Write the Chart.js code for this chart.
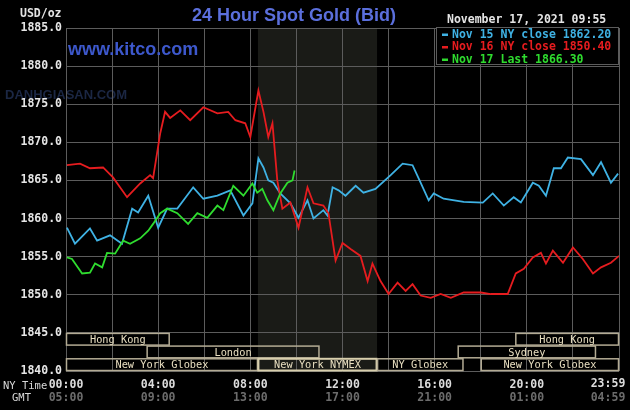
<!DOCTYPE html>
<html>
<head>
<meta charset="utf-8">
<script src="https://cdn.jsdelivr.net/npm/chart.js@4.4.1/dist/chart.umd.min.js"></script>
<style>
  html, body { margin: 0; padding: 0; background: #000; overflow: hidden; }
  canvas { display: block; }
</style>
</head>
<body>
<canvas id="goldChart" width="630" height="410"></canvas>
<script>
// --- data (hours after 00:00 NY time, price in USD/oz) ---
const nov15Hours = [0.04, 0.39, 1.04, 1.35, 1.91, 2.43, 2.87, 3.13, 3.57, 4.00, 4.39, 4.83, 5.52, 5.96, 6.57, 7.13, 7.70, 8.09, 8.35, 8.57, 8.78, 9.00, 9.30, 9.74, 10.09, 10.48, 10.74, 11.17, 11.35, 11.57, 11.83, 12.13, 12.57, 12.91, 13.43, 14.09, 14.61, 15.04, 15.39, 15.74, 15.96, 16.39, 17.26, 18.09, 18.52, 19.00, 19.43, 19.74, 20.26, 20.52, 20.83, 21.17, 21.48, 21.78, 22.35, 22.87, 23.22, 23.65, 23.96];
const nov15Prices = [1858.8, 1856.7, 1858.7, 1857.1, 1857.8, 1856.7, 1861.3, 1860.8, 1863.0, 1858.8, 1861.3, 1861.3, 1864.1, 1862.6, 1863.0, 1863.7, 1860.4, 1862.0, 1867.9, 1866.7, 1865.0, 1864.7, 1863.3, 1862.0, 1860.1, 1862.4, 1860.0, 1861.1, 1860.4, 1864.1, 1863.7, 1863.0, 1864.3, 1863.4, 1863.9, 1865.7, 1867.2, 1867.0, 1864.7, 1862.4, 1863.3, 1862.6, 1862.2, 1862.1, 1863.3, 1861.7, 1862.8, 1862.1, 1864.7, 1864.3, 1863.0, 1866.6, 1866.6, 1868.0, 1867.8, 1865.7, 1867.4, 1864.7, 1865.9];

const nov16Hours = [0.04, 0.61, 1.04, 1.61, 2.04, 2.65, 3.22, 3.65, 3.78, 4.09, 4.30, 4.52, 4.96, 5.39, 5.96, 6.57, 7.04, 7.35, 7.78, 8.00, 8.35, 8.57, 8.78, 8.96, 9.17, 9.39, 9.74, 10.09, 10.48, 10.74, 11.17, 11.39, 11.70, 12.00, 12.35, 12.78, 13.09, 13.30, 13.65, 14.00, 14.39, 14.74, 15.04, 15.39, 15.83, 16.26, 16.70, 17.26, 18.00, 18.43, 19.17, 19.52, 19.87, 20.26, 20.61, 20.83, 21.13, 21.57, 22.00, 22.43, 22.87, 23.22, 23.65, 24.00];
const nov16Prices = [1867.0, 1867.2, 1866.6, 1866.7, 1865.4, 1862.8, 1864.6, 1865.7, 1865.3, 1871.2, 1874.0, 1873.2, 1874.2, 1872.9, 1874.6, 1873.8, 1874.0, 1872.9, 1872.5, 1870.7, 1876.8, 1874.0, 1870.7, 1872.5, 1865.0, 1861.3, 1862.1, 1858.8, 1864.1, 1862.0, 1861.7, 1860.7, 1854.5, 1856.8, 1856.0, 1855.1, 1851.8, 1854.1, 1851.8, 1850.1, 1851.6, 1850.5, 1851.4, 1849.9, 1849.6, 1850.1, 1849.6, 1850.3, 1850.3, 1850.1, 1850.1, 1852.8, 1853.4, 1854.9, 1855.5, 1854.1, 1855.8, 1854.2, 1856.2, 1854.7, 1852.8, 1853.6, 1854.2, 1855.1];

const nov17Hours = [0.04, 0.26, 0.70, 1.04, 1.26, 1.57, 1.78, 2.13, 2.48, 2.78, 3.22, 3.57, 3.78, 4.09, 4.39, 4.83, 5.30, 5.70, 6.13, 6.57, 6.83, 7.26, 7.70, 8.09, 8.30, 8.52, 8.74, 9.00, 9.30, 9.61, 9.83, 9.92];
const nov17Prices = [1854.9, 1854.7, 1852.8, 1852.9, 1854.1, 1853.6, 1855.5, 1855.4, 1857.1, 1856.7, 1857.4, 1858.4, 1859.3, 1860.7, 1861.3, 1860.7, 1859.3, 1860.7, 1860.1, 1861.7, 1861.1, 1864.3, 1863.0, 1864.6, 1863.4, 1863.9, 1862.4, 1861.1, 1863.3, 1864.7, 1865.0, 1866.3];

const seriesLabels = ['Nov 15 NY close 1862.20', 'Nov 16 NY close 1850.40', 'Nov 17 Last 1866.30'];

const labelHours = [0, 4, 8, 12, 16, 20, 24];
const nyTimeLabels = ['00:00', '04:00', '08:00', '12:00', '16:00', '20:00', '23:59'];
const gmtLabels = ['05:00', '09:00', '13:00', '17:00', '21:00', '01:00', '04:59'];

// trading sessions (row 0 = top)
const sessionNames = ['Hong Kong', 'Hong Kong', 'London', 'Sydney', 'New York Globex', 'New York NYMEX', 'NY Globex', 'New York Globex'];
const sessionStart = [0, 19.5, 3.5, 17.0, 0, 8.33, 13.5, 18.0];
const sessionEnd = [4.5, 24, 11.0, 23.0, 8.33, 13.5, 17.25, 24];
const sessionRow = [0, 0, 1, 1, 2, 2, 2, 2];
const pitStart = 8.33, pitEnd = 13.5;

const MONO = '"DejaVu Sans Mono", monospace';
const colors = { nov15: '#3fb2e4', nov16: '#e61c1f', nov17: '#2fdc2f' };

function points(hours, prices) {
    return hours.map((h, i) => ({ x: h, y: prices[i] }));
}

const decor = {
    id: 'decor',
    beforeDraw(chart) {
        const { ctx, chartArea: a, scales: { x } } = chart;
        ctx.save();
        ctx.fillStyle = '#000';
        ctx.fillRect(0, 0, chart.width, chart.height);
        // NYMEX pit hours shading
        const x0 = x.getPixelForValue(pitStart), x1 = x.getPixelForValue(pitEnd);
        ctx.fillStyle = '#1a1b17';
        ctx.fillRect(x0, a.top, x1 - x0, a.bottom - a.top);
        // faint site watermark
        ctx.fillStyle = '#1b2744';
        ctx.font = 'bold 13px "Liberation Sans", sans-serif';
        ctx.textBaseline = 'middle';
        ctx.fillText('DANHGIASAN.COM', 5, 95);
        ctx.restore();
    },
    afterDatasetsDraw(chart) {
        const { ctx, scales: { x, y } } = chart;
        ctx.save();
        const band = 5 / 3;
        sessionNames.forEach((name, i) => {
            const l = x.getPixelForValue(sessionStart[i]);
            const r = x.getPixelForValue(sessionEnd[i]);
            const t = y.getPixelForValue(1845 - sessionRow[i] * band);
            const b = y.getPixelForValue(1845 - (sessionRow[i] + 1) * band);
            const pit = name === 'New York NYMEX';
            ctx.strokeStyle = pit ? '#d8cfad' : '#b3ab94';
            ctx.lineWidth = pit ? 2 : 1.5;
            ctx.strokeRect(l + 0.5, t + 0.5, r - l - 1, b - t - 1);
            ctx.fillStyle = '#e8dec0';
            ctx.font = '10.3px ' + MONO;
            ctx.textAlign = 'center';
            ctx.textBaseline = 'middle';
            ctx.fillText(name, (l + r) / 2, (t + b) / 2 + 1);
        });
        // kitco watermark
        ctx.fillStyle = '#3d58cc';
        ctx.font = 'bold 18px "Liberation Sans", Arial, sans-serif';
        ctx.textAlign = 'left';
        ctx.textBaseline = 'alphabetic';
        ctx.fillText('www.kitco.com', 68, 55);
        ctx.restore();
    },
    afterDraw(chart) {
        const { ctx, chartArea: a, scales: { x } } = chart;
        ctx.save();
        // title and time stamp
        ctx.fillStyle = '#5b6fdc';
        ctx.font = 'bold 18px "Liberation Sans", Arial, sans-serif';
        ctx.textAlign = 'center';
        ctx.textBaseline = 'middle';
        ctx.fillText('24 Hour Spot Gold (Bid)', 294, 16);
        ctx.fillStyle = '#e4e4e4';
        ctx.font = 'bold 11.5px ' + MONO;
        ctx.textAlign = 'left';
        ctx.fillText('November 17, 2021 09:55', 447, 20);
        ctx.fillText('USD/oz', 20, 14);
        // axis side captions
        ctx.font = '10.5px ' + MONO;
        ctx.fillStyle = '#d8d8d8';
        ctx.fillText('NY Time', 3, 386);
        ctx.fillText('GMT', 12, 398);
        // GMT row, placed through the x scale; last labels pulled inside the canvas
        ctx.textAlign = 'center';
        ctx.font = 'bold 11.5px ' + MONO;
        labelHours.forEach((h, i) => {
            const px = h === 24 ? x.getPixelForValue(h) - 11 : x.getPixelForValue(h);
            ctx.fillStyle = '#6c6c6c';
            ctx.fillText(gmtLabels[i], px, 398);
            if (h === 24) {
                ctx.fillStyle = '#dcdcdc';
                ctx.fillText(nyTimeLabels[i], px, 384);
            }
        });
        // legend box
        const bx = 436, by = a.top - 1, bw = a.right - 436, bh = 38;
        ctx.fillStyle = '#000';
        ctx.fillRect(bx, by, bw, bh);
        ctx.strokeStyle = '#5c5c5c';
        ctx.lineWidth = 1;
        ctx.strokeRect(bx + 0.5, by + 0.5, bw - 1, bh - 1);
        const lineColors = [colors.nov15, colors.nov16, colors.nov17];
        ctx.textAlign = 'left';
        seriesLabels.forEach((lab, i) => {
            const ty = by + 7.5 + i * 12.5;
            ctx.fillStyle = lineColors[i];
            ctx.fillRect(442, ty - 1, 6, 2.5);
            ctx.fillText(lab, 452, ty + 0.5);
        });
        ctx.restore();
    }
};

new Chart(document.getElementById('goldChart'), {
    type: 'line',
    data: {
        datasets: [
            { label: seriesLabels[0], data: points(nov15Hours, nov15Prices), borderColor: colors.nov15, order: 2 },
            { label: seriesLabels[1], data: points(nov16Hours, nov16Prices), borderColor: colors.nov16, order: 1 },
            { label: seriesLabels[2], data: points(nov17Hours, nov17Prices), borderColor: colors.nov17, order: 0 }
        ]
    },
    options: {
        responsive: false,
        animation: false,
        layout: { padding: { top: 28, right: 11, bottom: 13, left: 0 } },
        elements: {
            line: { borderWidth: 1.8, tension: 0 },
            point: { radius: 0 }
        },
        scales: {
            x: {
                type: 'linear',
                position: 'bottom',
                min: 0, max: 24,
                grid: { color: '#5c5c5c', drawTicks: false },
                border: { display: false },
                afterFit(s) { s.height = 26; s.paddingLeft = 0; s.paddingRight = 0; },
                ticks: {
                    stepSize: 2,
                    padding: 7,
                    maxRotation: 0,
                    autoSkip: false,
                    color: '#dcdcdc',
                    font: { family: MONO, size: 11.5, weight: 'bold' },
                    callback(v) {
                        const i = labelHours.indexOf(v);
                        return i >= 0 && v !== 24 ? nyTimeLabels[i] : '';
                    }
                }
            },
            y: {
                min: 1840, max: 1885,
                grid: { color: '#5c5c5c', drawTicks: false },
                border: { display: false },
                afterFit(s) { s.width = 66; },
                ticks: {
                    stepSize: 5,
                    padding: 4,
                    color: '#e6e6e6',
                    font: { family: MONO, size: 11.5, weight: 'bold' },
                    callback: v => v.toFixed(1)
                }
            }
        },
        plugins: {
            legend: { display: false },
            tooltip: { enabled: false }
        }
    },
    plugins: [decor]
});
</script>
</body>
</html>
